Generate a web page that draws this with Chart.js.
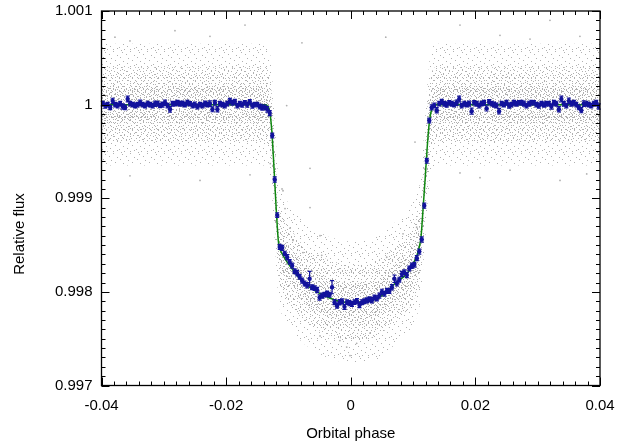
<!DOCTYPE html>
<html>
<head>
<meta charset="utf-8">
<script src="https://cdn.jsdelivr.net/npm/chart.js@4.4.1/dist/chart.umd.min.js"></script>
<style>
  html, body { margin: 0; padding: 0; background: #fff; }
  #wrap { width: 639px; height: 445px; }
</style>
</head>
<body>
<div id="wrap"><canvas id="chart" width="639" height="445"></canvas></div>
<script>
// Binned light curve (blue points with error bars)
const binPhase = [
  -0.0398,-0.0394,-0.039,-0.0386,-0.0382,-0.0378,-0.0374,-0.037,-0.0366,-0.0362,
  -0.0358,-0.0354,-0.035,-0.0346,-0.0342,-0.0338,-0.0334,-0.033,-0.0326,-0.0322,
  -0.0318,-0.0314,-0.031,-0.0306,-0.0302,-0.0298,-0.0294,-0.029,-0.0286,-0.0282,
  -0.0278,-0.0274,-0.027,-0.0266,-0.0262,-0.0258,-0.0254,-0.025,-0.0246,-0.0242,
  -0.0238,-0.0234,-0.023,-0.0226,-0.0222,-0.0218,-0.0214,-0.021,-0.0206,-0.0202,
  -0.0198,-0.0194,-0.019,-0.0186,-0.0182,-0.0178,-0.0174,-0.017,-0.0166,-0.0162,
  -0.0158,-0.0154,-0.015,-0.0146,-0.0142,-0.0138,-0.0134,
  -0.013,-0.0126,-0.0122,-0.0118,-0.0114,-0.011,-0.0106,-0.0102,-0.0098,-0.0094,
  -0.009,-0.0086,-0.0082,-0.0078,-0.0074,-0.007,-0.0066,-0.0062,-0.0058,-0.0054,
  -0.005,-0.0046,-0.0042,-0.0038,-0.0034,-0.003,-0.0026,-0.0022,-0.0018,-0.0014,
  -0.001,-0.0006,-0.0002,0.0002,0.0006,0.001,0.0014,0.0018,0.0022,0.0026,
  0.003,0.0034,0.0038,0.0042,0.0046,0.005,0.0054,0.0058,0.0062,0.0066,
  0.007,0.0074,0.0078,0.0082,0.0086,0.009,0.0094,0.0098,0.0102,0.0106,
  0.011,0.0114,0.0118,0.0122,0.0126,0.013,
  0.0134,0.0138,0.0142,0.0146,0.015,0.0154,0.0158,0.0162,0.0166,0.017,
  0.0174,0.0178,0.0182,0.0186,0.019,0.0194,0.0198,0.0202,0.0206,0.021,
  0.0214,0.0218,0.0222,0.0226,0.023,0.0234,0.0238,0.0242,0.0246,0.025,
  0.0254,0.0258,0.0262,0.0266,0.027,0.0274,0.0278,0.0282,0.0286,0.029,
  0.0294,0.0298,0.0302,0.0306,0.031,0.0314,0.0318,0.0322,0.0326,0.033,
  0.0334,0.0338,0.0342,0.0346,0.035,0.0354,0.0358,0.0362,0.0366,0.037,
  0.0374,0.0378,0.0382,0.0386,0.039,0.0394,0.0398
];
const binFlux = [
  1.00001,0.99999,1.0,0.99997,1.00004,1.0,0.99999,1.00001,0.99998,0.99997,
  1.00006,1.00001,1.0,0.99999,1.0,1.00002,1.0,0.99999,1.00001,1.0,
  0.99999,1.00001,1.00001,0.99999,1.0,1.00002,0.99999,0.99995,1.00001,1.00001,
  1.00002,1.00001,1.00001,1.0,1.00002,1.00001,0.99999,1.0,0.99998,1.0,
  0.99999,1.00001,1.0,1.00001,0.99995,1.00002,0.99995,1.00001,1.0,0.99999,
  1.00001,1.00004,1.00002,1.00003,0.99999,1.00001,1.0,1.00002,1.0,1.00003,
  0.99999,1.0,1.0,0.99998,0.99997,0.99997,0.99995,
  0.99991,0.99967,0.9992,0.99882,0.99848,0.99847,0.99841,0.99837,0.99832,0.99828,
  0.99822,0.9982,0.99816,0.99812,0.99809,0.99807,0.99814,0.99805,0.99804,0.99802,
  0.99794,0.99796,0.99797,0.99798,0.99797,0.99805,0.99789,0.99785,0.99789,0.9979,
  0.99784,0.99789,0.99788,0.99787,0.99789,0.9979,0.99786,0.99789,0.9979,0.99791,
  0.99792,0.99791,0.99794,0.99793,0.99796,0.998,0.99798,0.99801,0.99801,0.99805,
  0.99814,0.99809,0.99813,0.99819,0.99821,0.99818,0.99825,0.99828,0.99829,0.99836,
  0.99843,0.99856,0.99892,0.9994,0.99983,0.99997,
  0.99999,0.99994,1.00001,1.00003,1.00001,1.0,1.00002,1.00001,1.0,1.00002,
  1.00006,0.99999,1.00001,1.0,1.00001,0.99993,1.00002,1.00001,0.99999,1.00001,
  1.00002,0.99996,1.00003,1.00001,1.0,0.99999,0.99993,1.00001,1.0,1.00002,
  0.99999,1.0,1.00002,1.00001,1.00002,1.00002,1.00001,0.99999,1.00001,1.00002,
  1.00002,1.0,0.99999,1.00001,1.0,1.00001,1.00001,0.99998,1.00002,1.00001,
  0.99995,1.00006,1.00001,0.99999,1.00004,1.00001,1.00002,1.0,0.99997,0.99994,
  1.00001,1.00001,1.0,0.99999,1.00001,1.00002,0.99998
];
// error bars, ppm
const binErrPpm = [
  24,27,25,23,28,25,26,24,27,25, 30,24,25,26,23,27,25,24,26,25,
  24,28,25,23,26,27,24,30,25,24, 26,25,27,24,25,23,26,28,25,24,
  25,27,24,29,26,25,28,24,25,26, 24,27,25,26,24,25,28,23,26,25,
  27,24,25,26,28,25,30,
  27,26,28,25,27,26,24,28,25,27, 26,29,25,27,26,28,80,26,25,27,
  28,26,25,27,26,70,27,25,28,26, 27,25,28,26,25,27,28,26,25,27,
  26,28,25,27,26,28,25,27,26,28, 40,27,26,28,25,27,26,28,25,27,
  26,28,27,26,25,27,
  25,28,24,26,25,27,24,26,25,28, 30,24,26,25,27,32,24,25,26,24,
  25,28,25,24,26,25,30,24,25,26, 27,24,25,26,24,25,27,24,26,25,
  24,25,27,24,26,25,24,28,25,26, 28,30,25,24,29,25,26,24,25,27,
  30,26,25,24,26,25,27
];

// Transit model (green line)
const modelPhase = [
  -0.04,-0.0136,-0.01344,-0.01312,-0.01288,-0.01267,-0.01163,-0.01143,-0.01111,-0.01023,
  -0.0089,-0.0078,-0.0057,-0.0036,-0.0009,0.0007,0.0028,0.005,0.0071,0.0092,
  0.01058,0.01103,0.01127,0.01164,0.01192,0.01229,0.01261,0.01299,0.01336,0.0136,0.04
];
const modelFlux = [
  1,1,0.99999,0.99996,0.99987,0.99972,0.99855,0.99847,0.99842,0.99832,
  0.9982,0.99811,0.99801,0.99794,0.99789,0.99789,0.9979,0.99796,0.99809,0.99821,
  0.99838,0.99849,0.99858,0.99892,0.99919,0.99956,0.99981,0.99995,0.99999,1,1
];

// Unbinned points (grey cloud): three density zones around the curve
const cloudPhase = modelPhase;
const innerTop = [
  1.0002,1.0002,1.00019,1.00016,1.00007,0.99992,0.99875,0.99867,0.99862,0.99852,
  0.9984,0.99831,0.99821,0.99814,0.99809,0.99809,0.9981,0.99816,0.99829,0.99841,
  0.99858,0.99869,0.99878,0.99912,0.99939,0.99976,1.00001,1.00015,1.00019,1.0002,1.0002
];
const innerBottom = [
  0.9998,0.9998,0.99979,0.99976,0.99967,0.99952,0.99835,0.99827,0.99822,0.99812,
  0.998,0.99791,0.99781,0.99774,0.99769,0.99769,0.9977,0.99776,0.99789,0.99801,
  0.99818,0.99829,0.99838,0.99872,0.99899,0.99936,0.99961,0.99975,0.99979,0.9998,0.9998
];
const midTop = [
  1.0004,1.0004,1.00039,1.00036,1.00027,1.00012,0.99895,0.99887,0.99882,0.99872,
  0.9986,0.99851,0.99841,0.99834,0.99829,0.99829,0.9983,0.99836,0.99849,0.99861,
  0.99878,0.99889,0.99898,0.99932,0.99959,0.99996,1.00021,1.00035,1.00039,1.0004,1.0004
];
const midBottom = [
  0.9996,0.9996,0.99959,0.99956,0.99947,0.99932,0.99815,0.99807,0.99802,0.99792,
  0.9978,0.99771,0.99761,0.99754,0.99749,0.99749,0.9975,0.99756,0.99769,0.99781,
  0.99798,0.99809,0.99818,0.99852,0.99879,0.99916,0.99941,0.99955,0.99959,0.9996,0.9996
];
const outerTop = [
  1.00065,1.00065,1.00064,1.00061,1.00052,1.00037,0.9992,0.99912,0.99907,0.99897,
  0.99885,0.99876,0.99866,0.99859,0.99854,0.99854,0.99855,0.99861,0.99874,0.99886,
  0.99903,0.99914,0.99923,0.99957,0.99984,1.00021,1.00046,1.0006,1.00064,1.00065,1.00065
];
const outerBottom = [
  0.99935,0.99935,0.99934,0.99931,0.99922,0.99907,0.9979,0.99782,0.99777,0.99767,
  0.99755,0.99746,0.99736,0.99729,0.99724,0.99724,0.99725,0.9973,0.99744,0.99756,
  0.99773,0.99784,0.99793,0.99827,0.99854,0.99891,0.99916,0.9993,0.99934,0.99935,0.99935
];
// stray grey points outside the cloud
const strayPhase = [
  -0.01028,-0.00654,-0.00654,-0.01087,-0.01055,0.01031,0.01192,0.01753,0.02556,0.03787,
  -0.01291,-0.01103,-0.00975,-0.00927,-0.00766,-0.00493,-0.00466,0.00577,0.00839,0.01058,
  -0.00065,-0.00173,-0.00493,0.00309,0.00095,-0.00012,-0.03543,-0.02821,-0.02259,-0.01697,
  -0.03784,0.01753,0.02395,0.03197,0.03678,0.02877,-0.03543,-0.02419,-0.01617,0.03358,
  0.02074,-0.00783,0.00562
];
const strayFlux = [
  0.99999,0.99932,0.9989,0.99908,0.99889,0.9996,0.99932,0.99927,0.9993,0.99926,
  0.99937,0.9991,0.99868,0.99855,0.99842,0.9986,0.99839,0.99837,0.99862,0.99869,
  0.99741,0.99748,0.99753,0.99756,0.99745,0.99732,1.00068,1.00079,1.00073,1.00085,
  1.00072,1.00085,1.00074,1.0009,1.00073,1.0007,0.99924,0.99919,0.99925,0.99919,
  0.99922,1.00066,1.00072
];

const yTicks = [0.997, 0.998, 0.999, 1, 1.001];
const xTicks = [-0.04, -0.02, 0, 0.02, 0.04];

const BLUE = '#12129c';
const GREEN = '#0f870f';
const DOT = '#b0b0b0';
const FONT = { family: '"Liberation Sans", Arial, Helvetica, sans-serif', size: 15 };

const pts = (xs, ys) => xs.map((x, i) => ({ x, y: ys[i] }));

// speckle texture for the grey cloud (hand placed dots, tiles of different size)
function speckle(dots, size) {
  const c = document.createElement('canvas');
  c.width = size; c.height = size;
  const g = c.getContext('2d');
  g.fillStyle = DOT;
  dots.forEach(([x, y]) => g.fillRect(x, y, 1, 1));
  return g.createPattern(c, 'repeat');
}
const innerPattern = speckle([
  [0,0],[5,1],[9,2],[2,3],[7,4],[4,6],[10,6],[1,7],[6,8],[3,9],[8,10],[0,4],[3,1],[8,7]
], 11);
const midPattern = speckle([
  [2,0],[8,0],[5,2],[11,2],[0,3],[7,5],[3,5],[10,6],[1,8],[6,8],[12,9],[4,10],[9,10],[2,12],[7,12],[11,12],[0,11]
], 13);
const outerPattern = speckle([
  [3,1],[11,0],[7,3],[15,4],[1,6],[9,7],[13,9],[4,10],[0,13],[8,12],[15,14],[5,15],[11,15],[2,16]
], 17);

const decor = {
  id: 'decor',
  beforeDatasetDraw(chart, args) {
    if (chart.data.datasets[args.index].label !== 'binned') return;
    const { ctx, scales: { x, y } } = chart;
    ctx.save();
    ctx.strokeStyle = BLUE;
    ctx.lineWidth = 1.2;
    ctx.beginPath();
    binPhase.forEach((p, i) => {
      const e = binErrPpm[i] * 1e-6;
      const px = x.getPixelForValue(p);
      const y1 = y.getPixelForValue(binFlux[i] + e);
      const y2 = y.getPixelForValue(binFlux[i] - e);
      ctx.moveTo(px, y1); ctx.lineTo(px, y2);
      ctx.moveTo(px - 2, y1); ctx.lineTo(px + 2, y1);
      ctx.moveTo(px - 2, y2); ctx.lineTo(px + 2, y2);
    });
    ctx.stroke();
    ctx.restore();
  },
  afterDraw(chart) {
    const { ctx, chartArea: a, scales: { x, y } } = chart;
    ctx.save();
    ctx.strokeStyle = '#000';
    ctx.lineWidth = 1;
    ctx.beginPath();
    // inward ticks on all four sides, minor every 0.002 / 0.0001
    for (let k = 0; k <= 40; k++) {
      const px = Math.round(x.getPixelForValue(-0.04 + k * 0.002)) + 0.5;
      const len = k % 10 === 0 ? 8 : 4;
      ctx.moveTo(px, a.bottom); ctx.lineTo(px, a.bottom - len);
      ctx.moveTo(px, a.top); ctx.lineTo(px, a.top + len);
    }
    for (let k = 0; k <= 40; k++) {
      const py = Math.round(y.getPixelForValue(0.997 + k * 0.0001)) + 0.5;
      const len = k % 10 === 0 ? 8 : 4;
      ctx.moveTo(a.left, py); ctx.lineTo(a.left + len, py);
      ctx.moveTo(a.right, py); ctx.lineTo(a.right - len, py);
    }
    ctx.stroke();
    ctx.lineWidth = 1.3;
    ctx.strokeRect(a.left, a.top, a.right - a.left, a.bottom - a.top);
    // y axis title
    ctx.translate(20, 234);
    ctx.rotate(-Math.PI / 2);
    ctx.fillStyle = '#000';
    ctx.font = `${FONT.size}px ${FONT.family}`;
    ctx.textAlign = 'center';
    ctx.textBaseline = 'middle';
    ctx.fillText('Relative flux', 0, 0);
    ctx.restore();
  }
};

const fmt = v => String(+v.toFixed(4));
const band = (label, ys, order, fill, pattern) => ({
  label, data: pts(cloudPhase, ys), order, borderWidth: 0, pointRadius: 0,
  fill, backgroundColor: pattern || 'transparent'
});

new Chart(document.getElementById('chart'), {
  type: 'line',
  data: {
    datasets: [
      {
        label: 'binned', data: pts(binPhase, binFlux), showLine: false, order: 0,
        pointRadius: 2.2, pointBackgroundColor: BLUE, pointBorderWidth: 0, borderColor: BLUE
      },
      {
        label: 'model', data: pts(modelPhase, modelFlux), order: 1,
        borderColor: GREEN, borderWidth: 1.5, pointRadius: 0, fill: false,
        cubicInterpolationMode: 'monotone'
      },
      {
        label: 'stray', data: pts(strayPhase, strayFlux), showLine: false, order: 2,
        pointRadius: 0.9, pointBackgroundColor: DOT, pointBorderWidth: 0
      },
      band('innerTop', innerTop, 3, '+1', innerPattern),
      band('innerBottom', innerBottom, 3, false),
      band('midTop', midTop, 4, '+1', midPattern),
      band('midBottom', midBottom, 4, false),
      band('outerTop', outerTop, 5, '+1', outerPattern),
      band('outerBottom', outerBottom, 5, false)
    ]
  },
  options: {
    responsive: false,
    animation: false,
    layout: { autoPadding: false, padding: { left: 0, right: 39, top: 11, bottom: 0 } },
    plugins: { legend: { display: false }, tooltip: { enabled: false } },
    scales: {
      x: {
        type: 'linear', min: -0.04, max: 0.04,
        afterBuildTicks: s => { s.ticks = xTicks.map(v => ({ value: v })); },
        ticks: { callback: fmt, color: '#000', font: FONT, padding: 11, maxRotation: 0 },
        grid: { display: false, drawTicks: false },
        border: { display: false },
        title: { display: true, text: 'Orbital phase', color: '#000', font: FONT, padding: { top: 0, bottom: 2 } },
        afterFit: s => { s.height = 59.5; s.paddingLeft = 0; s.paddingRight = 0; }
      },
      y: {
        type: 'linear', min: 0.997, max: 1.001,
        afterBuildTicks: s => { s.ticks = yTicks.map(v => ({ value: v })); },
        ticks: { callback: fmt, color: '#000', font: FONT, padding: 9 },
        grid: { display: false, drawTicks: false },
        border: { display: false },
        afterFit: s => { s.width = 101.5; s.paddingTop = 0; s.paddingBottom = 0; }
      }
    }
  },
  plugins: [decor]
});
</script>
</body>
</html>
